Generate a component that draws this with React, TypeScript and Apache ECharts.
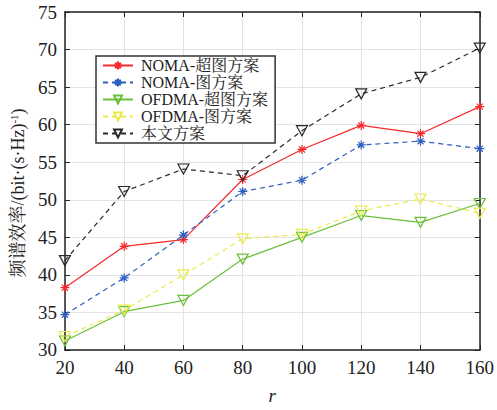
import React, { useEffect, useRef } from "react";
import * as echarts from "echarts";

const xValues = [20, 40, 60, 80, 100, 120, 140, 160];
const seriesNames = ["NOMA-超图方案", "NOMA-图方案", "OFDMA-超图方案", "OFDMA-图方案", "本文方案"];
const nomaHyper = [38.3, 43.8, 44.7, 52.7, 56.7, 59.9, 58.8, 62.4];
const nomaGraph = [34.7, 39.6, 45.3, 51.1, 52.6, 57.3, 57.8, 56.8];
const ofdmaHyper = [31.2, 35.1, 36.6, 42.1, 45.0, 47.9, 47.0, 49.5];
const ofdmaGraph = [31.8, 35.3, 40.0, 44.8, 45.4, 48.5, 50.1, 48.2];
const proposed = [41.9, 51.1, 54.1, 53.2, 59.2, 64.1, 66.3, 70.2];

const STAR = "path://M5,0L5,10M0,5L10,5M1.6,1.6L8.4,8.4M1.6,8.4L8.4,1.6";
const TRI = "path://M0,0L10,0L5,9Z";

export default function App() {
  const ref = useRef<HTMLDivElement>(null);
  useEffect(() => {
    if (!ref.current) return;
    const chart = echarts.init(ref.current, null, { renderer: "svg" });
    const font = "'Liberation Serif', 'Times New Roman', 'Noto Serif CJK SC', 'Noto Sans CJK SC', serif";
    const mk = (name: string, data: number[], color: string, dashed: boolean, symbol: string) => ({
      name,
      type: "line",
      data: xValues.map((x, i) => [x, data[i]]),
      symbol,
      symbolSize: symbol === STAR ? 9 : [11, 10],
      lineStyle: { color, width: 1.2, type: dashed ? [5, 4] : "solid" },
      itemStyle: { color: "transparent", borderColor: color, borderWidth: 1.2 },
      emphasis: { disabled: true },
    });
    chart.setOption({
      animation: false,
      backgroundColor: "#fff",
      textStyle: { fontFamily: font },
      grid: { left: 64, right: 16, top: 12, bottom: 54, containLabel: false },
      legend: {
        left: 96,
        top: 56,
        orient: "vertical",
        data: seriesNames,
        backgroundColor: "#fff",
        borderColor: "#333",
        borderWidth: 1.5,
        padding: [1, 7, 1, 6],
        itemGap: 0,
        itemWidth: 30,
        itemHeight: 10,
        textStyle: { fontFamily: font, fontSize: 16, lineHeight: 17, color: "#222", padding: [0, 0, 0, 3] },
      },
      xAxis: [
        {
          type: "value",
          min: 20,
          max: 160,
          interval: 20,
          name: "r",
          nameLocation: "middle",
          nameGap: 36,
          nameTextStyle: { fontFamily: font, fontSize: 19, fontStyle: "italic", color: "#222" },
          axisLine: { lineStyle: { color: "#222", width: 1.5 } },
          axisTick: { inside: true, length: 5, lineStyle: { color: "#222" } },
          axisLabel: { fontFamily: font, fontSize: 19, color: "#222", margin: 8 },
          splitLine: { show: true, lineStyle: { color: "#e3e3e3", width: 1 } },
        },
        {
          type: "value",
          position: "top",
          min: 20,
          max: 160,
          interval: 20,
          axisLine: { lineStyle: { color: "#222", width: 1.5 } },
          axisTick: { inside: true, length: 5, lineStyle: { color: "#222" } },
          axisLabel: { show: false },
          splitLine: { show: false },
        },
      ],
      yAxis: [
        {
          type: "value",
          min: 30,
          max: 75,
          interval: 5,
          name: "{a|频谱效率/(bit·(s·Hz)}{sup|-1}{a|)}",
          nameLocation: "middle",
          nameGap: 33,
          nameRotate: 90,
          nameTextStyle: {
            fontFamily: font,
            fontSize: 18,
            color: "#222",
            padding: [0, 24, 0, 0],
            rich: {
              a: { fontFamily: font, fontSize: 18, color: "#222", lineHeight: 20 },
              sup: { fontFamily: font, fontSize: 11, color: "#222", verticalAlign: "top", lineHeight: 20, padding: [0, 0, 8, 0] },
            },
          },
          axisLine: { lineStyle: { color: "#222", width: 1.5 } },
          axisTick: { inside: true, length: 5, lineStyle: { color: "#222" } },
          axisLabel: { fontFamily: font, fontSize: 19, color: "#222", margin: 8 },
          splitLine: { show: true, lineStyle: { color: "#e3e3e3", width: 1 } },
        },
        {
          type: "value",
          position: "right",
          min: 30,
          max: 75,
          interval: 5,
          axisLine: { show: true, lineStyle: { color: "#222", width: 1.5 } },
          axisTick: { show: true, inside: true, length: 5, lineStyle: { color: "#222" } },
          axisLabel: { show: false },
          splitLine: { show: false },
        },
      ],
      series: [
        mk(seriesNames[0], nomaHyper, "#f52a2a", false, STAR),
        mk(seriesNames[1], nomaGraph, "#2b5fbd", true, STAR),
        mk(seriesNames[2], ofdmaHyper, "#6cbf3a", false, TRI),
        mk(seriesNames[3], ofdmaGraph, "#eaea4a", true, TRI),
        mk(seriesNames[4], proposed, "#2a2a2a", true, TRI),
      ],
    });
    return () => chart.dispose();
  }, []);
  return <div ref={ref} style={{ width: 497, height: 410, position: "absolute", left: 0, top: 0 }} />;
}
